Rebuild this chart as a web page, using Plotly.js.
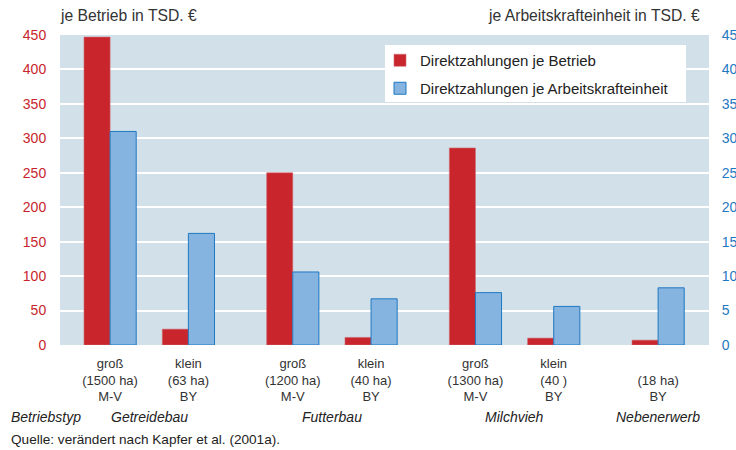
<!DOCTYPE html>
<html><head><meta charset="utf-8">
<script src="https://cdn.plot.ly/plotly-3.0.1.min.js"></script>
<style>html,body{margin:0;padding:0;background:#fff}#chart{width:736px;height:450px}</style>
</head><body><div id="chart"></div>
<script>
const positions = [0, 3, 7, 10, 14, 17, 21];
const tickLabels = ["groß<br>(1500 ha)<br>M-V", "klein<br>(63 ha)<br>BY", "groß<br>(1200 ha)<br>M-V", "klein<br>(40 ha)<br>BY", "groß<br>(1300 ha)<br>M-V", "klein<br>(40 )<br>BY", " <br>(18 ha)<br>BY"];
const jeBetrieb = [447, 23, 250, 11, 286, 10, 7];
const jeAKE = [31.0, 16.2, 10.6, 6.7, 7.6, 5.6, 8.3];
const groups = ["Getreidebau", "Futterbau", "Milchvieh", "Nebenerwerb"];
const groupPos = [1.5, 8.5, 15.5, 21];

const font = "Liberation Sans, Arial, sans-serif";
const red = "#c8252c", blueFill = "#86b4e0", blueLine = "#1f78c1";

const traces = [
  {type: "bar", x: positions, y: jeBetrieb, name: "Direktzahlungen je Betrieb", width: 1, offset: -1,
   marker: {color: red, line: {color: "#d06a70", width: 0.6}}, yaxis: "y", legend: "legend"},
  {type: "bar", x: positions, y: jeAKE, name: "Direktzahlungen je Arbeitskrafteinheit", width: 1, offset: 0,
   marker: {color: blueFill, line: {color: blueLine, width: 1}}, yaxis: "y2", legend: "legend2"}
];

// pixel helpers for plot area (l=60, r=27, t=35, b=105 => 649 x 310)
const PW = 649, PH = 310, PL = 60, PT = 35;
const px = v => (v - PL) / PW;
const py = v => (PT + PH - v) / PH;

const annotations = groups.map((g, i) => ({
  text: "<i>" + g + "</i>", x: groupPos[i], xref: "x", y: py(417), yref: "paper", showarrow: false,
  xanchor: "center", yanchor: "middle", font: {family: font, size: 14, color: "#222"}
}));
annotations.push(
  {text: "<i>Betriebstyp</i>", x: px(9), xref: "paper", y: py(417), yref: "paper", showarrow: false, xanchor: "left", yanchor: "middle", font: {family: font, size: 14, color: "#222"}},
  {text: "Quelle: verändert nach Kapfer et al. (2001a).", x: px(9), xref: "paper", y: py(439), yref: "paper", showarrow: false, xanchor: "left", yanchor: "middle", font: {family: font, size: 13.6, color: "#222"}},
  {text: "je Betrieb in TSD. €", x: px(58), xref: "paper", y: py(15), yref: "paper", showarrow: false, xanchor: "left", yanchor: "middle", font: {family: font, size: 15.7, color: "#333"}},
  {text: "je Arbeitskrafteinheit in TSD. €", x: px(702), xref: "paper", y: py(15), yref: "paper", showarrow: false, xanchor: "right", yanchor: "middle", font: {family: font, size: 15.7, color: "#333"}}
);

const legendBase = {x: px(380), xanchor: "left", yanchor: "top", bgcolor: "rgba(0,0,0,0)", borderwidth: 0,
                    font: {family: font, size: 15, color: "#222"}};

const layout = {
  width: 736, height: 450,
  margin: {l: 60, r: 27, t: 35, b: 105, pad: 0},
  paper_bgcolor: "#ffffff", plot_bgcolor: "#d2e0e9",
  font: {family: font, size: 13, color: "#333"},
  showlegend: true,
  legend: Object.assign({}, legendBase, {y: py(44)}),
  legend2: Object.assign({}, legendBase, {y: py(72)}),
  shapes: [{type: "rect", xref: "paper", yref: "paper", x0: px(385), x1: px(686), y0: py(45), y1: py(102),
            fillcolor: "#ffffff", line: {width: 0}, layer: "above"}],
  xaxis: {range: [-1.92, 22.95], tickvals: positions, ticktext: tickLabels, showgrid: false, zeroline: false,
          ticks: "outside", ticklen: 6, tickcolor: "rgba(0,0,0,0)", tickfont: {family: font, size: 13, color: "#333"}, fixedrange: true},
  yaxis: {range: [0, 450], dtick: 50, showgrid: true, gridcolor: "#ffffff", gridwidth: 2, zeroline: false,
          ticks: "outside", ticklen: 10, tickcolor: "rgba(0,0,0,0)", tickfont: {family: font, size: 14, color: red}},
  yaxis2: {range: [0, 45], dtick: 5, overlaying: "y", side: "right", showgrid: false, zeroline: false,
           ticks: "outside", ticklen: 9, tickcolor: "rgba(0,0,0,0)", tickfont: {family: font, size: 14, color: blueLine}},
  annotations: annotations
};
Plotly.newPlot("chart", traces, layout, {displayModeBar: false, staticPlot: true});
</script></body></html>
